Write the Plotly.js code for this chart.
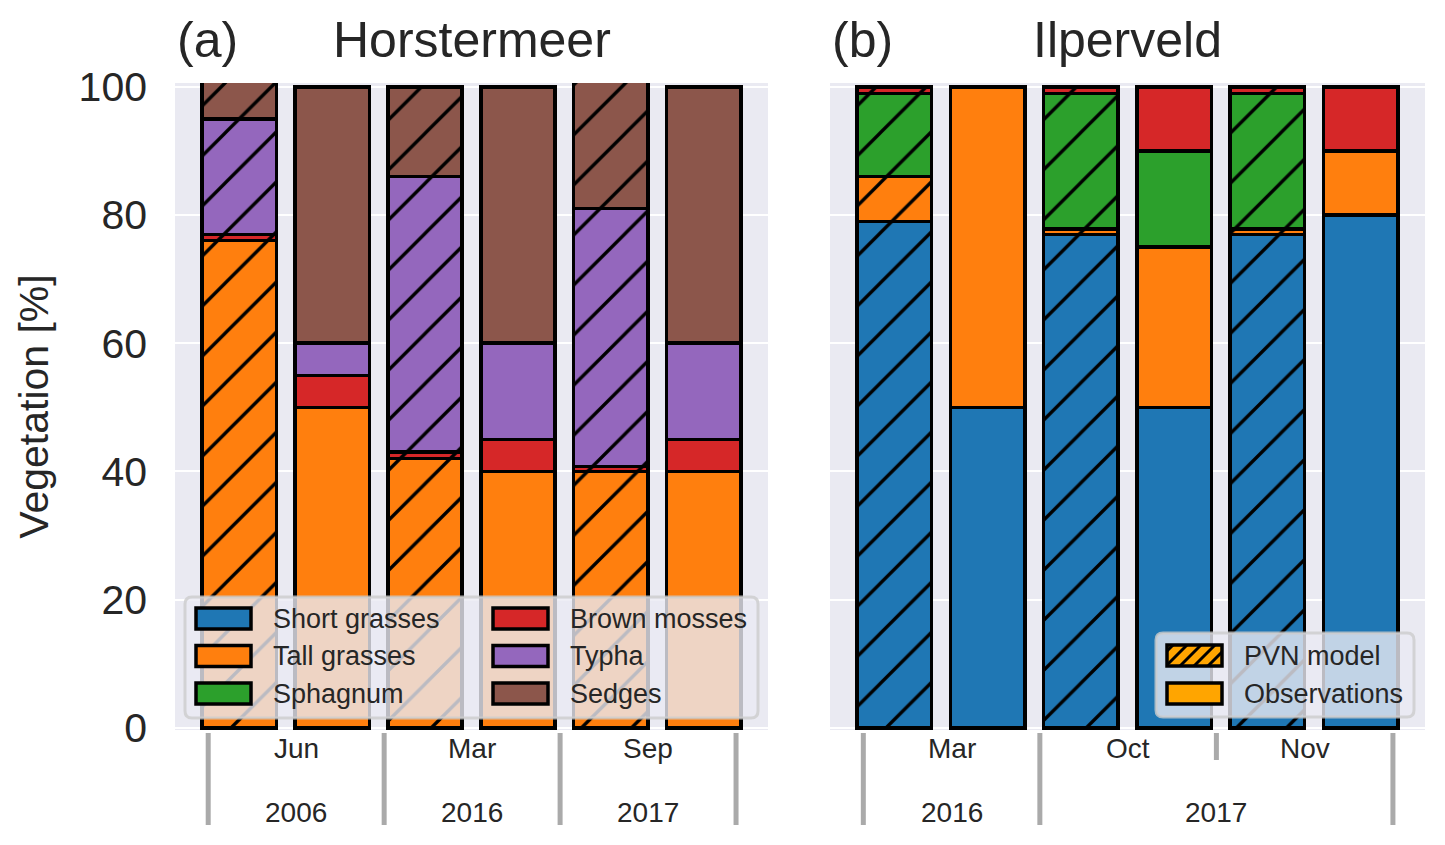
<!DOCTYPE html>
<html><head><meta charset="utf-8">
<script src="https://cdn.plot.ly/plotly-3.0.1.min.js"></script>
<style>html,body{margin:0;padding:0;background:#fff}</style>
</head><body>
<div id="chart" style="width:1445px;height:845px"></div>
<script>
// ---------------- data ----------------
const classes = ['Short grasses', 'Tall grasses', 'Sphagnum', 'Brown mosses', 'Typha', 'Sedges'];
const classColors = ['#1f77b4', '#ff7f0e', '#2ca02c', '#d62728', '#9467bd', '#8c564b'];
const source = ['PVN model', 'Observations', 'PVN model', 'Observations', 'PVN model', 'Observations'];

// (a) Horstermeer
const horsterCats = ['Jun 2006 PVN', 'Jun 2006 Obs', 'Mar 2016 PVN', 'Mar 2016 Obs', 'Sep 2017 PVN', 'Sep 2017 Obs'];
const horsterMonths = ['Jun', 'Mar', 'Sep'];
const horsterYears = ['2006', '2016', '2017'];
const horsterYearSpan = [[0, 0], [1, 1], [2, 2]];
const horsterShort  = [null, null, null, null, null, null];
const horsterTall   = [76, 50, 42, 40, 40, 40];
const horsterSphag  = [null, null, null, null, null, null];
const horsterBrown  = [1, 5, 1, 5, 0.8, 5];
const horsterTypha  = [18, 5, 43, 15, 40.2, 15];
const horsterSedges = [7, 40, 14, 40, 21, 40];

// (b) Ilperveld
const ilperCats = ['Mar 2016 PVN', 'Mar 2016 Obs', 'Oct 2017 PVN', 'Oct 2017 Obs', 'Nov 2017 PVN', 'Nov 2017 Obs'];
const ilperMonths = ['Mar', 'Oct', 'Nov'];
const ilperYears = ['2016', '2017'];
const ilperYearSpan = [[0, 0], [1, 2]];
const ilperShort  = [79, 50, 77, 50, 77, 80];
const ilperTall   = [7, 50, 0.8, 25, 0.8, 10];
const ilperSphag  = [13, null, 21.2, 15, 21.2, null];
const ilperBrown  = [1, null, 1, 10, 1, 10];
const ilperTypha  = [null, null, null, null, null, null];
const ilperSedges = [null, null, null, null, null, null];

const yTicks = [0, 20, 40, 60, 80, 100];
const legendKinds = ['PVN model', 'Observations'];
const legendKindColor = '#ffa500';

// ---------------- helpers ----------------
const W = 1445, H = 845;
const X = x => x / W;
const Y = y => 1 - y / H;
const FONT = 'Liberation Sans, Arial, sans-serif';
const TXT = '#262626';

const traces = [];
function addPanel(cats, series, xa, ya) {
  series.forEach((vals, i) => {
    if (vals.every(v => v === null)) return;
    traces.push({
      type: 'bar', x: cats, y: vals, xaxis: xa, yaxis: ya,
      name: classes[i], showlegend: false,
      marker: {
        color: classColors[i],
        line: {color: 'black', width: 3.5},
        pattern: {
          shape: source.map(s => s === 'PVN model' ? '/' : ''),
          size: 35.4, solidity: 0.095, fillmode: 'replace',
          fgcolor: 'black', bgcolor: classColors[i], fgopacity: 1
        }
      },
      hoverinfo: 'x+y+name'
    });
  });
}
addPanel(horsterCats, [horsterShort, horsterTall, horsterSphag, horsterBrown, horsterTypha, horsterSedges], 'x', 'y');
addPanel(ilperCats, [ilperShort, ilperTall, ilperSphag, ilperBrown, ilperTypha, ilperSedges], 'x2', 'y2');

const shapes = [];
const annotations = [];

// group separators and month/year labels below each panel
const sepStart = 0.056, sepStep = 0.2967;
function groupAxis(xref, months, years, spans) {
  const sep = k => sepStart + sepStep * k;
  const yearBounds = new Set();
  spans.forEach(s => { yearBounds.add(s[0]); yearBounds.add(s[1] + 1); });
  for (let k = 0; k <= months.length; k++) {
    const long = yearBounds.has(k);
    shapes.push({type: 'line', xref: xref, yref: 'paper', x0: sep(k), x1: sep(k),
      y0: Y(733), y1: Y(long ? 825 : 760), line: {color: '#aaaaaa', width: 5}});
  }
  months.forEach((m, k) => annotations.push({xref: xref, yref: 'paper', x: (sep(k) + sep(k + 1)) / 2,
    y: Y(748), text: m, showarrow: false, xanchor: 'center', yanchor: 'middle',
    font: {size: 28, color: TXT, family: FONT}}));
  years.forEach((yv, k) => annotations.push({xref: xref, yref: 'paper',
    x: (sep(spans[k][0]) + sep(spans[k][1] + 1)) / 2,
    y: Y(812), text: yv, showarrow: false, xanchor: 'center', yanchor: 'middle',
    font: {size: 28, color: TXT, family: FONT}}));
}
groupAxis('x domain', horsterMonths, horsterYears, horsterYearSpan);
groupAxis('x2 domain', ilperMonths, ilperYears, ilperYearSpan);

// panel titles
[['x domain', '(a)', 'Horstermeer'], ['x2 domain', '(b)', 'Ilperveld']].forEach(t => {
  annotations.push({xref: t[0], yref: 'paper', x: 0, y: Y(40), text: t[1], showarrow: false,
    xanchor: 'left', yanchor: 'middle', font: {size: 50, color: TXT, family: FONT}});
  annotations.push({xref: t[0], yref: 'paper', x: 0.5, y: Y(40), text: t[2], showarrow: false,
    xanchor: 'center', yanchor: 'middle', font: {size: 50, color: TXT, family: FONT}});
});

// legend helpers (pixel geometry -> paper)
function roundRect(x0, y0, x1, y1, r) {
  const P = (x, y) => X(x) + ',' + Y(y);
  return 'M' + P(x0 + r, y0) + ' L' + P(x1 - r, y0) + ' Q' + P(x1, y0) + ' ' + P(x1, y0 + r) +
    ' L' + P(x1, y1 - r) + ' Q' + P(x1, y1) + ' ' + P(x1 - r, y1) +
    ' L' + P(x0 + r, y1) + ' Q' + P(x0, y1) + ' ' + P(x0, y1 - r) +
    ' L' + P(x0, y0 + r) + ' Q' + P(x0, y0) + ' ' + P(x0 + r, y0) + ' Z';
}
function frame(x0, y0, x1, y1) {
  shapes.push({type: 'path', xref: 'paper', yref: 'paper', path: roundRect(x0, y0, x1, y1, 7),
    fillcolor: 'rgba(234,234,242,0.8)', line: {color: 'rgba(204,204,204,0.8)', width: 3}});
}
function patch(x0, yc, color, hatched) {
  const w = 55, h = 21, y0 = yc - h / 2, y1 = yc + h / 2;
  shapes.push({type: 'rect', xref: 'paper', yref: 'paper', x0: X(x0), x1: X(x0 + w), y0: Y(y1), y1: Y(y0),
    fillcolor: color, line: {color: 'black', width: 3.5}});
  if (hatched) {
    let d = '';
    for (let c = x0 - h + 6; c < x0 + w; c += 14) {
      let sx = c, sy = y1, ex = c + h, ey = y0;
      if (sx < x0) { sy = y1 - (x0 - sx); sx = x0; }
      if (ex > x0 + w) { ey = y0 + (ex - (x0 + w)); ex = x0 + w; }
      d += 'M' + X(sx) + ',' + Y(sy) + ' L' + X(ex) + ',' + Y(ey) + ' ';
    }
    shapes.push({type: 'path', xref: 'paper', yref: 'paper', path: d, line: {color: 'black', width: 3}});
  }
}
function legendText(x, yc, text) {
  annotations.push({xref: 'paper', yref: 'paper', x: X(x), y: Y(yc), text: text, showarrow: false,
    xanchor: 'left', yanchor: 'middle', font: {size: 27, color: TXT, family: FONT}});
}

// legend (a): vegetation classes, two columns
frame(185, 597, 758, 718);
const rowsA = [618.5, 656, 693.5];
classes.forEach((c, i) => {
  const col = Math.floor(i / 3), row = i % 3;
  patch([196, 493][col], rowsA[row], classColors[i], false);
  legendText([271, 568][col], rowsA[row], c);
});

// legend (b): model vs observations
frame(1156, 633, 1414, 717);
const rowsB = [655.5, 693.5];
legendKinds.forEach((k, i) => {
  patch(1167, rowsB[i], legendKindColor, k === 'PVN model');
  legendText(1242, rowsB[i], k);
});

const yDom = [Y(730), Y(83)];
const yRange = [-0.35, 100.6];
const xRange = [-0.69, 5.69];
const xCommon = {type: 'category', range: xRange, showticklabels: false, showgrid: false,
  zeroline: false, ticks: '', showline: false, fixedrange: true};
const yCommon = {range: yRange, tickvals: yTicks, showgrid: true, gridcolor: '#ffffff', gridwidth: 2,
  zeroline: false, showline: false, ticks: '', fixedrange: true, domain: yDom};

const layout = {
  width: W, height: H,
  margin: {l: 0, r: 0, t: 0, b: 0, pad: 0},
  paper_bgcolor: '#ffffff', plot_bgcolor: '#eaeaf2',
  font: {family: FONT, color: TXT},
  barmode: 'stack', bargap: 0.2,
  showlegend: false, hovermode: false,
  xaxis: Object.assign({}, xCommon, {domain: [X(175), X(768)], anchor: 'y'}),
  xaxis2: Object.assign({}, xCommon, {domain: [X(830), X(1425)], anchor: 'y2'}),
  yaxis: Object.assign({}, yCommon, {anchor: 'x', tickfont: {size: 41, color: TXT, family: FONT},
    ticklabelstandoff: 27,
    title: {text: 'Vegetation [%]', font: {size: 41, color: TXT, family: FONT}, standoff: 17}}),
  yaxis2: Object.assign({}, yCommon, {anchor: 'x2', matches: 'y', showticklabels: false}),
  shapes: shapes,
  annotations: annotations
};

Plotly.newPlot('chart', traces, layout, {displayModeBar: false, responsive: false});
</script>
</body></html>
